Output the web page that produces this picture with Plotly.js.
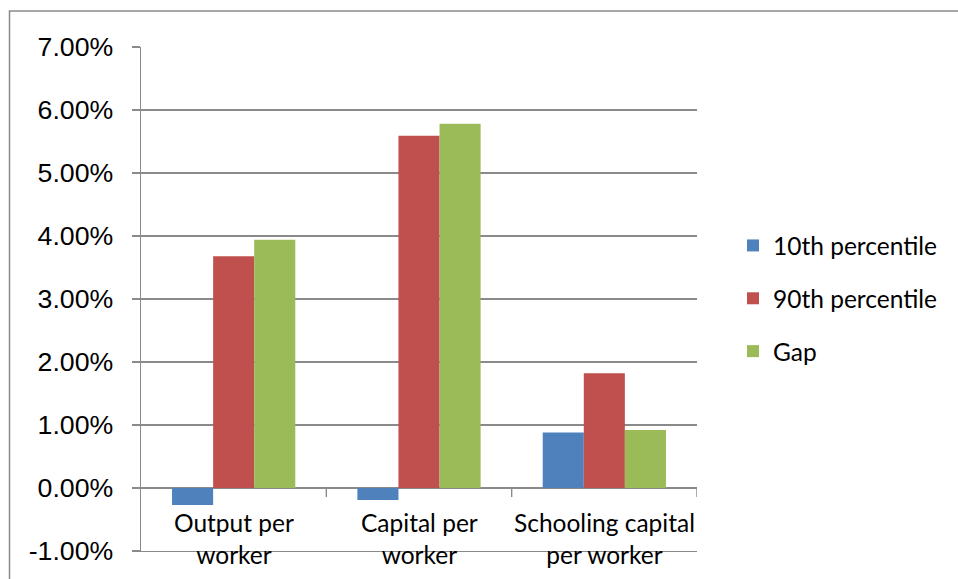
<!DOCTYPE html>
<html>
<head>
<meta charset="utf-8">
<script src="https://cdn.plot.ly/plotly-3.0.1.min.js"></script>
<style>
  html, body { margin: 0; padding: 0; background: #ffffff; }
  #chart { width: 958px; height: 579px; }
</style>
</head>
<body>
<div id="chart"></div>
<script>
// Growth rates by measure, for the bottom and top deciles and the gap between them
const categories = ["Output per worker", "Capital per worker", "Schooling capital per worker"];
const categoryLabels = ["Output per<br>worker", "Capital per<br>worker", "Schooling capital<br>per worker"];
const p10 = [-0.0027, -0.0019, 0.0088];
const p90 = [0.0368, 0.0559, 0.0182];
const gap = [0.0394, 0.0578, 0.0092];

const seriesNames = ["10th percentile", "90th percentile", "Gap"];
const seriesColors = ["#4F81BD", "#C0504D", "#9BBB59"];
const seriesValues = [p10, p90, gap];

const yTickVals = [-0.01, 0, 0.01, 0.02, 0.03, 0.04, 0.05, 0.06, 0.07];
const yTickText = ["-1.00%", "0.00%", "1.00%", "2.00%", "3.00%", "4.00%", "5.00%", "6.00%", "7.00%"];

const gridColor = "#8a8a8a";
const labelFont = "Lato, 'Open Sans', sans-serif";

const traces = seriesNames.map((name, i) => ({
  type: "bar",
  name: name,
  x: categories,
  y: seriesValues[i],
  marker: { color: seriesColors[i], line: { width: 0 } },
  legendgroup: "g" + i,
  hoverinfo: "x+y+name"
}));

// plot area in pixels: left 141, right 697, top 47, bottom 551
const L = 141, R = 697, T = 47, B = 551, W = 958, H = 579;
const px = v => (v - L) / (R - L);
const py = v => (B - v) / (B - T);

const shapes = [
  // outer chart frame (left and top edges visible)
  { type: "rect", xref: "paper", yref: "paper",
    x0: px(9.5), x1: px(W + 20), y0: py(H + 20), y1: py(11),
    line: { color: "#8a8a8a", width: 1.5 }, fillcolor: "rgba(0,0,0,0)", layer: "below" }
];
// category divider ticks hanging below the zero line
[0.5, 1.5, 2.5].forEach(xv => {
  shapes.push({ type: "line", xref: "x", yref: "y", ysizemode: "pixel", yanchor: 0,
    x0: xv, x1: xv, y0: 0, y1: -9, line: { color: gridColor, width: 1.4 } });
});

const annotations = categoryLabels.map((t, i) => ({
  text: t, x: categories[i], y: 0, xref: "x", yref: "y",
  yanchor: "top", xanchor: "center", showarrow: false, yshift: -18,
  font: { family: labelFont, size: 24.5, color: "#000000" }
}));

const layout = {
  width: W, height: H,
  margin: { l: L, r: W - R, t: T, b: H - B, pad: 0 },
  paper_bgcolor: "#ffffff", plot_bgcolor: "#ffffff",
  barmode: "group", bargap: 0.335, bargroupgap: 0,
  showlegend: true,
  legend: {
    x: px(733), xanchor: "left", y: py(223), yanchor: "top",
    font: { family: labelFont, size: 24.5, color: "#000000" },
    tracegroupgap: 18, bgcolor: "rgba(0,0,0,0)", borderwidth: 0,
    traceorder: "grouped"
  },
  xaxis: {
    type: "category", range: [-0.5, 2.5],
    showticklabels: false, ticks: "", showgrid: false, zeroline: false,
    showline: true, linecolor: gridColor, linewidth: 1.4,
    fixedrange: true
  },
  yaxis: {
    range: [-0.01, 0.07], tickvals: yTickVals, ticktext: yTickText,
    showgrid: true, gridcolor: gridColor, gridwidth: 1.4,
    zeroline: true, zerolinecolor: gridColor, zerolinewidth: 1.4,
    showline: true, linecolor: gridColor, linewidth: 1.4,
    ticks: "outside", ticklen: 8, tickcolor: gridColor, tickwidth: 1.4,
    ticklabelstandoff: 13,
    tickfont: { family: "'Liberation Sans', Arial, sans-serif", size: 26.7, color: "#000000" },
    fixedrange: true
  },
  shapes: shapes,
  annotations: annotations
};

Plotly.newPlot("chart", traces, layout, { displayModeBar: false, staticPlot: true });
</script>
</body>
</html>
